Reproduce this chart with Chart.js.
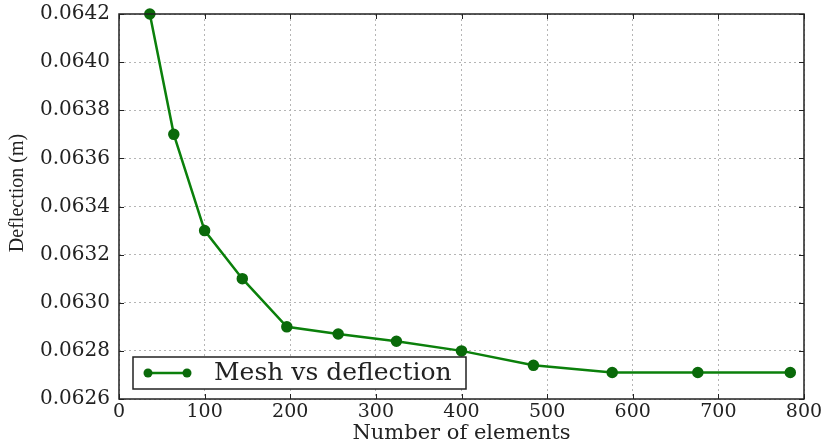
<!DOCTYPE html>
<html>
<head>
<meta charset="utf-8">
<script src="https://cdn.jsdelivr.net/npm/chart.js@4"></script>
<style>
  html, body { margin: 0; padding: 0; background: #fff; }
  #wrap { width: 827px; height: 447px; position: relative; }
</style>
</head>
<body>
<div id="wrap"><canvas id="c" width="827" height="447"></canvas></div>
<script>
// ---- data ----
const elements = [36, 64, 100, 144, 196, 256, 324, 400, 484, 576, 676, 784];
const deflection = [0.0642, 0.0637, 0.0633, 0.0631, 0.0629, 0.06287, 0.06284, 0.0628, 0.06274, 0.06271, 0.06271, 0.06271];
const seriesLabel = 'Mesh vs deflection';
const xTitle = 'Number of elements';
const yTitle = 'Deflection (m)';
const xMin = 0, xMax = 800, xStep = 100;
const yMin = 0.0626, yMax = 0.0642, yStep = 0.0002;

const lineColor = '#0b800b';
const markerColor = '#0a6a0a';

const framePlugin = {
  id: 'frame',
  afterDatasetsDraw(chart) {
    const { ctx, chartArea: a, scales } = chart;
    ctx.save();
    ctx.strokeStyle = '#222';
    ctx.lineWidth = 1;
    const tl = 5;
    scales.x.ticks.forEach(t => {
      const px = Math.round(scales.x.getPixelForValue(t.value)) + 0.5;
      ctx.beginPath();
      ctx.moveTo(px, a.bottom); ctx.lineTo(px, a.bottom - tl);
      ctx.moveTo(px, a.top); ctx.lineTo(px, a.top + tl);
      ctx.stroke();
    });
    scales.y.ticks.forEach(t => {
      const py = Math.round(scales.y.getPixelForValue(t.value)) + 0.5;
      ctx.beginPath();
      ctx.moveTo(a.left, py); ctx.lineTo(a.left + tl, py);
      ctx.moveTo(a.right, py); ctx.lineTo(a.right - tl, py);
      ctx.stroke();
    });
    ctx.lineWidth = 1.5;
    ctx.strokeStyle = '#222';
    ctx.strokeRect(a.left, a.top, a.right - a.left, a.bottom - a.top);

    // y-axis title
    ctx.save();
    ctx.translate(18, 193);
    ctx.rotate(-Math.PI / 2);
    ctx.fillStyle = '#222';
    ctx.font = '20px "Liberation Serif"';
    ctx.textAlign = 'center';
    ctx.textBaseline = 'middle';
    ctx.fillText(yTitle, 0, 0);
    ctx.restore();

    // legend box (inside plot, lower left)
    const bx = a.left + 14, by = a.bottom - 42, bw = 333, bh = 32;
    ctx.fillStyle = '#fff';
    ctx.fillRect(bx, by, bw, bh);
    ctx.lineWidth = 1.5;
    ctx.strokeStyle = '#222';
    ctx.strokeRect(bx, by, bw, bh);
    const ly = by + bh / 2;
    ctx.strokeStyle = lineColor;
    ctx.lineWidth = 2.5;
    ctx.beginPath();
    ctx.moveTo(bx + 15, ly); ctx.lineTo(bx + 54, ly);
    ctx.stroke();
    ctx.fillStyle = markerColor;
    [bx + 15, bx + 54].forEach(mx => {
      ctx.beginPath();
      ctx.arc(mx, ly, 4.5, 0, Math.PI * 2);
      ctx.fill();
    });
    ctx.fillStyle = '#222';
    ctx.font = '25px "DejaVu Serif"';
    ctx.textBaseline = 'middle';
    ctx.textAlign = 'left';
    ctx.fillText(seriesLabel, bx + 81, ly);
    ctx.restore();
  }
};

new Chart(document.getElementById('c'), {
  type: 'line',
  data: {
    datasets: [{
      label: seriesLabel,
      data: elements.map((x, i) => ({ x: x, y: deflection[i] })),
      borderColor: lineColor,
      borderWidth: 2.5,
      backgroundColor: markerColor,
      pointBackgroundColor: markerColor,
      pointBorderColor: markerColor,
      pointRadius: 4.5,
      pointHoverRadius: 4.5,
      tension: 0,
      fill: false,
      clip: false
    }]
  },
  options: {
    responsive: false,
    animation: false,
    devicePixelRatio: 1,
    layout: { padding: { left: 0, right: 23, top: 14, bottom: 0 } },
    plugins: {
      legend: { display: false },
      tooltip: { enabled: false }
    },
    scales: {
      x: {
        type: 'linear',
        min: xMin, max: xMax,
        ticks: {
          stepSize: xStep,
          padding: 2,
          color: '#222',
          font: { family: 'DejaVu Serif', size: 19 },
          maxRotation: 0
        },
        grid: { color: '#b5b5b5', borderDash: [2, 3], drawTicks: false, lineWidth: 1 },
        border: { display: false, dash: [2, 3] },
        title: {
          display: true, text: xTitle, color: '#222',
          font: { family: 'DejaVu Serif', size: 21 },
          padding: { top: 0, bottom: 1 }
        },
        afterFit(s) { s.height = 48; s.paddingLeft = 0; s.paddingRight = 0; }
      },
      y: {
        type: 'linear',
        min: yMin, max: yMax,
        ticks: {
          stepSize: yStep,
          padding: 9,
          color: '#222',
          font: { family: 'DejaVu Serif', size: 20 },
          callback: v => v.toFixed(4)
        },
        grid: { color: '#b5b5b5', drawTicks: false, lineWidth: 1 },
        border: { display: false, dash: [2, 3] },
        title: { display: false, text: yTitle },
        afterFit(s) { s.width = 119; s.paddingTop = 0; s.paddingBottom = 0; }
      }
    }
  },
  plugins: [framePlugin]
});
</script>
</body>
</html>
